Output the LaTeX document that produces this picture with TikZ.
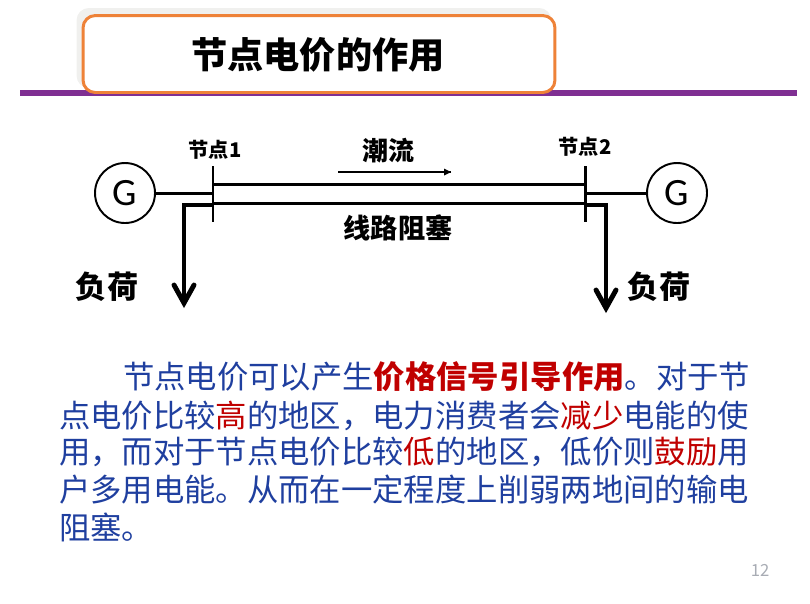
\documentclass[tikz,border=0pt]{standalone}
\usepackage{fontspec}
\setmainfont{Noto Sans CJK SC}
\newfontfamily\latinfont{Carlito}
\usepackage{xcolor}
\definecolor{naranja}{HTML}{EE8238}
\definecolor{morado}{HTML}{7F2F92}
\definecolor{sombra}{HTML}{F0F0EE}
\definecolor{azul}{HTML}{1F3F9F}
\definecolor{rojo}{HTML}{C00000}
\definecolor{gris}{HTML}{A8ACB4}
\newcommand{\rj}[1]{\textcolor{rojo}{#1}}
\newcommand{\rjb}[1]{\textcolor{rojo}{\bfseries #1}}
\begin{document}
\begin{tikzpicture}[
    x=0.02cm,y=-0.02cm,
    every node/.style={inner sep=0pt,outer sep=0pt},
    titlebox/.style={draw=naranja,line width=1.7pt,fill=white,rounded corners=7pt,minimum width=9.44cm,minimum height=1.54cm},
    shadebox/.style={fill=sombra,rounded corners=7pt,minimum width=9.5cm,minimum height=1.6cm},
    gen/.style={circle,draw=black,line width=1.1pt,fill=white,minimum size=1.2cm,font=\fontsize{22}{22}\latinfont},
    label/.style={font=\bfseries\fontsize{15.5}{15.5}\selectfont},
    small/.style={font=\bfseries\fontsize{11.5}{11.5}\selectfont},
    bodyline/.style={anchor=base west,text=azul,font=\fontsize{17.85}{17.85}\selectfont},
    busbar/.style={line width=1.7pt},
    feeder/.style={line width=1.7pt},
    loadline/.style={line width=2.8pt}
  ]
    \useasboundingbox (0,0) rectangle (810,603);
    \fill[morado] (20,90) rectangle (797,96);
    \node[shadebox] (shade) at (314,48) {};
    \node[titlebox] (title) at (319,54) {};
    \node[font=\bfseries\fontsize{20.6}{20.6}\selectfont] (titletext) at (318,55) {节点电价的作用};

    \node[gen] (g1) at (125,193) {G};
    \node[gen] (g2) at (677,193) {G};
    \coordinate (b1top) at (213,166);
    \coordinate (b1bot) at (213,222);
    \coordinate (b2top) at (585,166);
    \coordinate (b2bot) at (585,222);
    \coordinate (b1g) at (213,193);
    \coordinate (b2g) at (585,193);
    \coordinate (up1) at (213,184);
    \coordinate (up2) at (585,184);
    \coordinate (lo1) at (213,203);
    \coordinate (lo2) at (585,203);
    \coordinate (d1) at (213,205);
    \coordinate (d2) at (585,205);
    \coordinate (load1) at (184,303);
    \coordinate (load2) at (606,308);
    \coordinate (flow1) at (338,172);
    \coordinate (flow2) at (451,172);

    \draw[busbar] (b1top) -- (b1bot);
    \draw[busbar] (b2top) -- (b2bot);
    \draw[busbar] (up1) -- (up2);
    \draw[busbar] (lo1) -- (lo2);
    \draw[feeder] (g1) -- (b1g);
    \draw[feeder] (g2) -- (b2g);
    \draw[loadline] (d1) -| (load1);
    \draw[loadline] (d2) -| (load2);
    \draw[line width=2.8pt,line cap=round] (174,285) -- (load1) -- (194,285);
    \draw[line width=2.8pt,line cap=round] (596,290) -- (load2) -- (616,290);
    \draw[line width=1.1pt] (flow1) -- (flow2);
    \fill (flow2) -- ++(-7,-3.5) -- ++(0,7) -- cycle;

    \node[small] (node1) at (215,150) {节点1};
    \node[small] (node2) at (585,147) {节点2};
    \node[font=\bfseries\fontsize{14.8}{14.8}\selectfont] (flow) at (388,151) {潮流};
    \node[label] (congest) at (398,228) {线路阻塞};
    \node[font=\bfseries\fontsize{17.7}{17.7}\selectfont] (load1text) at (107,287) {负荷};
    \node[font=\bfseries\fontsize{17.7}{17.7}\selectfont] (load2text) at (659,287) {负荷};

    \node[bodyline] (line1) at (123,388) {节点电价可以产生\rjb{价格信号引导作用}。对于节};
    \node[bodyline] (line2) at (59,427) {点电价比较\rj{高}的地区，电力消费者会\rj{减少}电能的使};
    \node[bodyline] (line3) at (59,463) {用，而对于节点电价比较\rj{低}的地区，低价则\rj{鼓励}用};
    \node[bodyline] (line4) at (59,501) {户多用电能。从而在一定程度上削弱两地间的输电};
    \node[bodyline] (line5) at (59,539) {阻塞。};

    \node[text=gris,font=\fontsize{9.5}{9.5}\rmfamily] (pagenum) at (760,570) {12};
  \end{tikzpicture}
\end{document}
